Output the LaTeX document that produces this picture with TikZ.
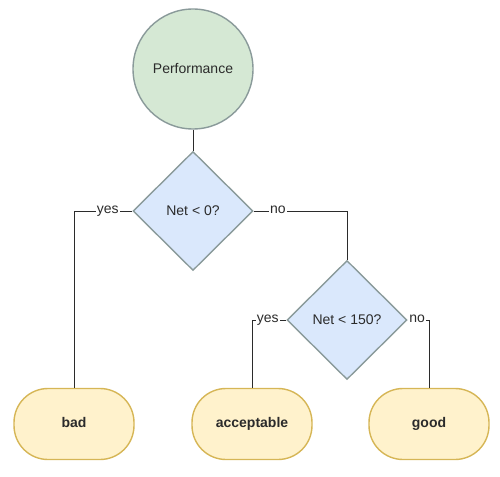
\documentclass[tikz,border=0pt]{standalone}
\usepackage{fontspec}
\setmainfont{Liberation Sans}
\usetikzlibrary{shapes.geometric}
\definecolor{startfill}{HTML}{D5E8D4}
\definecolor{shapestroke}{HTML}{8A9A9A}
\definecolor{decfill}{HTML}{DAE8FC}
\definecolor{endfill}{HTML}{FFF2CC}
\definecolor{endstroke}{HTML}{D6B656}
\definecolor{linecol}{HTML}{2B2B2B}
\begin{document}
\begin{tikzpicture}[x=1pt,y=-1pt,
  every node/.style={font=\fontsize{14}{16}\selectfont, text=linecol},
  startnode/.style={circle, draw=shapestroke, fill=startfill, line width=1.4pt, minimum size=120pt, inner sep=0pt},
  decision/.style={diamond, draw=shapestroke, fill=decfill, line width=1.4pt, minimum width=120pt, minimum height=119pt, inner sep=0pt},
  terminal/.style={rectangle, rounded corners=34pt, draw=endstroke, fill=endfill, line width=1.4pt, minimum width=120pt, minimum height=71pt, text height=10pt, text depth=3pt, font=\fontsize{14}{16}\selectfont\bfseries},
  conn/.style={draw=linecol, line width=0.9pt},
  lbl/.style={fill=white, inner sep=1pt, text height=8pt, text depth=3pt}]
\useasboundingbox (0,0) rectangle (500,476);
\node[startnode] (perf) at (193,69) {Performance};
\node[decision] (d1) at (193,211) {Net {<} 0?};
\node[decision] (d2) at (347,320) {Net {<} 150?};
\node[terminal] (bad) at (74,424) {bad};
\node[terminal] (acc) at (252,424) {acceptable};
\node[terminal] (good) at (429,424) {good};
\draw[conn] (perf.south) -- (d1.north);
\draw[conn] (d1.west) -| node[lbl, pos=0.21] {yes} (bad.north);
\draw[conn] (d1.east) -| node[lbl, pos=0.13] {no} (d2.north);
\draw[conn] (d2.west) -| node[lbl, pos=0.27] {yes} (acc.north);
\draw[conn] (d2.east) -| node[lbl, pos=0.22] {no} (good.north);
\end{tikzpicture}
\end{document}
